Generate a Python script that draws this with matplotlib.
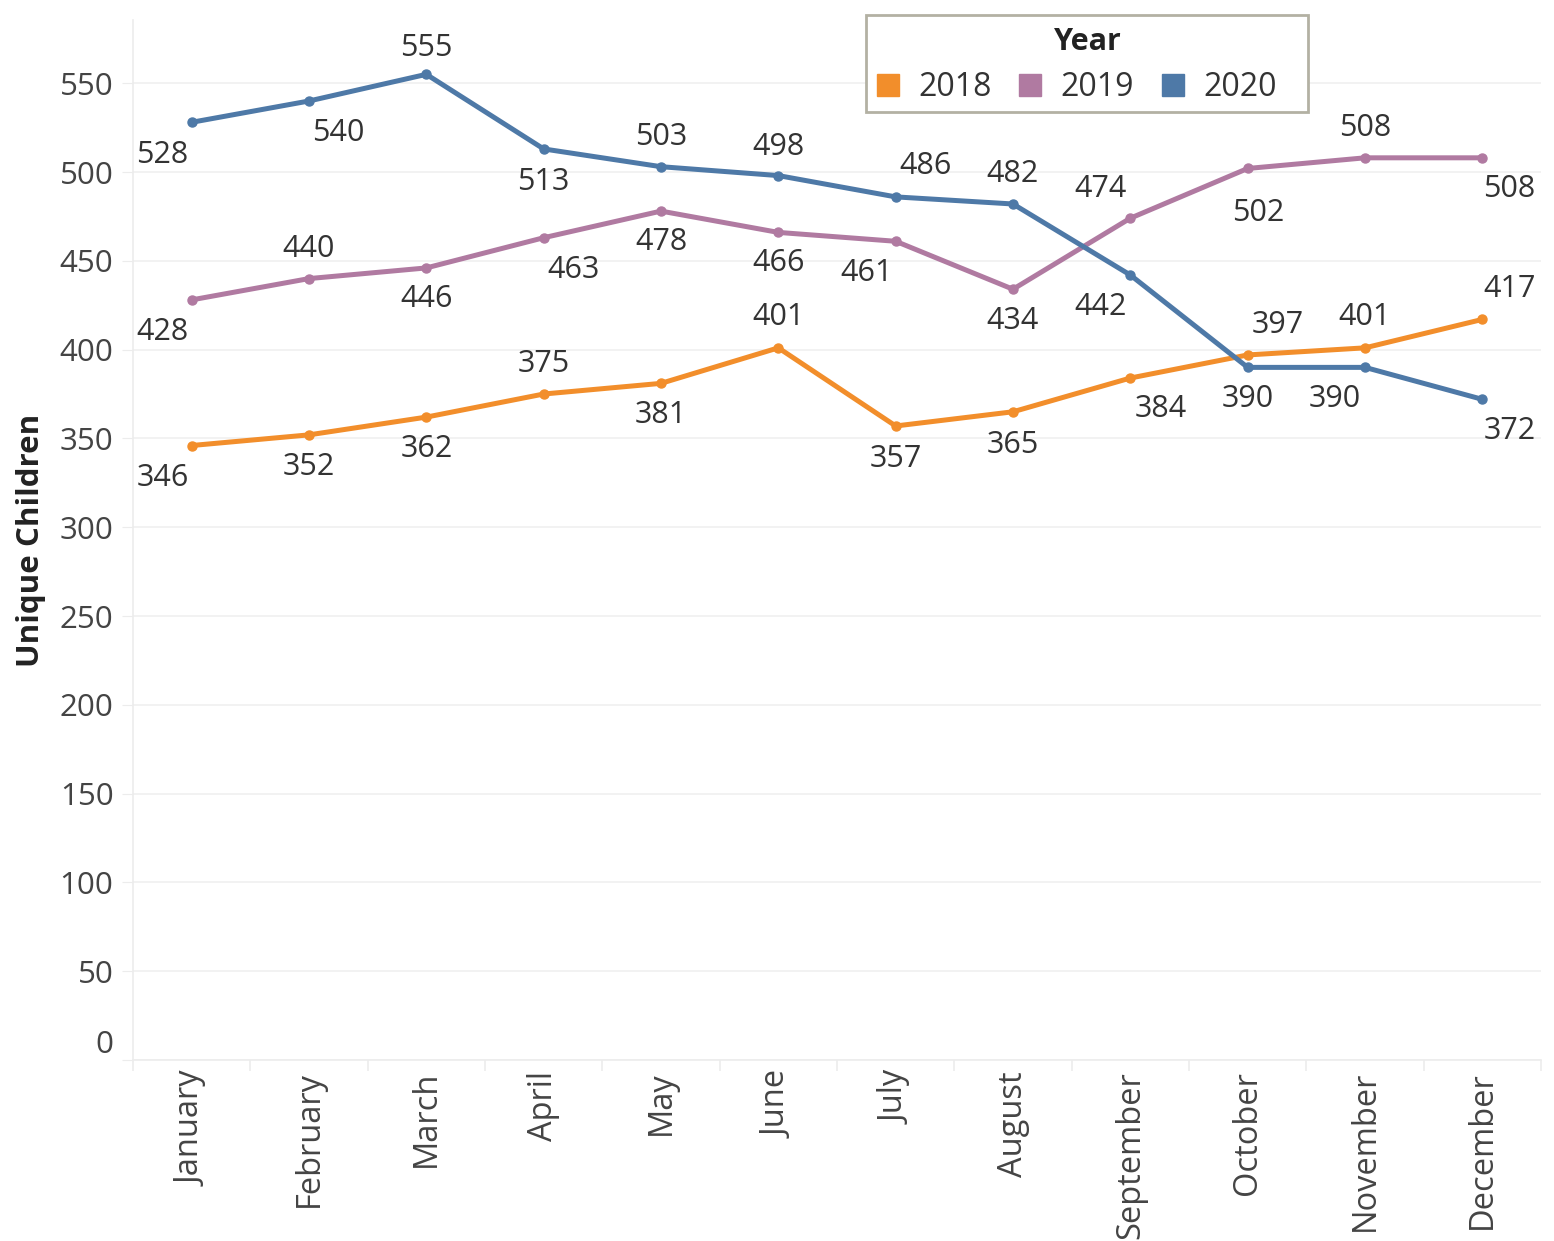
import matplotlib.pyplot as plt
from matplotlib.lines import Line2D
from matplotlib.patches import Rectangle
from matplotlib.ticker import FixedLocator

plt.rcParams["font.family"] = ["Open Sans", "DejaVu Sans"]

MONTHS = ["January", "February", "March", "April", "May", "June", "July",
          "August", "September", "October", "November", "December"]
YEARS = ["2018", "2019", "2020"]
V2018 = [346, 352, 362, 375, 381, 401, 357, 365, 384, 397, 401, 417]
V2019 = [428, 440, 446, 463, 478, 466, 461, 434, 474, 502, 508, 508]
V2020 = [528, 540, 555, 513, 503, 498, 486, 482, 442, 390, 390, 372]

COLORS = {"2018": "#f28e2b", "2019": "#b07aa1", "2020": "#4e79a7"}

# label offsets in pixels (dx, dy; positive dy = up), mimicking Tableau placement
OFF = {
    "2020": [(-29, -33), (29, -32), (0, 26), (0, -33), (0, 30), (0, 29),
             (30, 31), (0, 30), (-30, -32), (0, -32), (-30, -32), (27, -32)],
    "2019": [(-29, -32), (0, 30), (0, -31), (30, -32), (0, -31), (0, -31),
             (-29, -32), (0, -32), (-30, 29), (11, -45), (0, 30), (27, -31)],
    "2018": [(-29, -32), (0, -32), (0, -32), (0, 30), (0, -32), (0, 31),
             (0, -33), (0, -33), (30, -31), (30, 30), (0, 31), (27, 30)],
}
DATA = {"2018": V2018, "2019": V2019, "2020": V2020}

W, H = 1554, 1241
fig = plt.figure(figsize=(W / 100, H / 100), dpi=100)
ax = fig.add_axes([133 / W, 1 - 1060 / H, (1541 - 133) / W, 1040 / H])

x = list(range(len(MONTHS)))
for yr in ["2018", "2019", "2020"]:
    vals = DATA[yr]
    ax.plot(x, vals, color=COLORS[yr], lw=3.6, marker="o", markersize=6.5,
            solid_joinstyle="round", zorder=3)
    for xi, v, (dx, dy) in zip(x, vals, OFF[yr]):
        ax.annotate(str(v), xy=(xi, v), xytext=(dx, dy), textcoords="offset pixels",
                    ha="center", va="center", fontsize=22, color="#333333", zorder=4)

ax.set_xlim(-0.5, 11.5)
ax.set_ylim(0, 585.6)

grid_c = "#ececec"
ax.set_yticks(range(0, 551, 50))
ax.yaxis.grid(True, color="#f0f0f0", lw=1.2)
ax.set_axisbelow(True)
ax.tick_params(axis="y", length=8, color=grid_c, labelsize=22.5, labelcolor="#444444", pad=6)
for lab in ax.get_yticklabels():
    if lab.get_text() == "0":
        lab.set_va("bottom")

ax.set_xticks(x)
ax.set_xticklabels(MONTHS, rotation=90, va="top", ha="center")
ax.tick_params(axis="x", which="major", length=0, labelsize=23.5, labelcolor="#444444", pad=8)
ax.xaxis.set_minor_locator(FixedLocator([i - 0.5 for i in range(13)]))
ax.tick_params(axis="x", which="minor", length=8, color=grid_c, width=1.2)

for s in ["top", "right"]:
    ax.spines[s].set_visible(False)
ax.spines["left"].set_color(grid_c)
ax.spines["bottom"].set_color(grid_c)
ax.spines["left"].set_linewidth(1.2)
ax.spines["bottom"].set_linewidth(1.2)

ax.set_ylabel("Unique Children", fontsize=22.5, fontweight="bold", color="#222222", labelpad=10)

# legend: frame, title and entries
fig.patches.append(Rectangle((866 / W, 1 - 112 / H), (1308 - 866) / W, 97 / H,
                             transform=fig.transFigure, facecolor="white",
                             edgecolor="#b3b1a3", lw=2, zorder=5))
fig.text(1088 / W, 1 - 42 / H, "Year", ha="center", va="center", fontsize=22,
         fontweight="bold", color="#222222", zorder=6)
handles = [Line2D([], [], ls="none", marker="s", markersize=16, color=COLORS[y]) for y in YEARS]
leg = fig.legend(handles, YEARS, loc="center left", ncol=3,
                 bbox_to_anchor=(874 / W, 1 - 88 / H), borderaxespad=0,
                 fontsize=23, frameon=False, handlelength=0.9, handletextpad=0.5,
                 columnspacing=0.75, borderpad=0)
leg.set_zorder(6)
for t in leg.get_texts():
    t.set_color("#333333")

fig.savefig("out.png", dpi=100)
